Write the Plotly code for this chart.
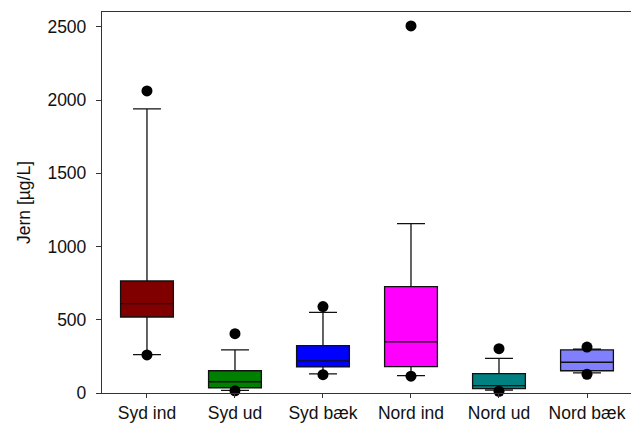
import plotly.graph_objects as go

categories = ["Syd ind", "Syd ud", "Syd bæk", "Nord ind", "Nord ud", "Nord bæk"]
q1 = [519, 36, 178, 180, 30, 152]
median = [610, 77, 219, 350, 50, 210]
q3 = [765, 152, 323, 726, 132, 294]
lower_whisker = [262, 18, 130, 118, 20, 137]
upper_whisker = [1940, 294, 551, 1157, 237, 300]
outlier_x = ["Syd ind", "Syd ind", "Syd ud", "Syd ud", "Syd bæk", "Syd bæk",
             "Nord ind", "Nord ind", "Nord ud", "Nord ud", "Nord bæk", "Nord bæk"]
outlier_y = [2063, 260, 405, 15, 590, 125, 2507, 115, 303, 12, 314, 128]
colors = ["#800000", "#008000", "#0000ff", "#ff00ff", "#008080", "#8080ff"]

fig = go.Figure()
for i, c in enumerate(categories):
    fig.add_trace(go.Box(
        x=[c], q1=[q1[i]], median=[median[i]], q3=[q3[i]],
        lowerfence=[lower_whisker[i]], upperfence=[upper_whisker[i]],
        fillcolor=colors[i], line=dict(color="#111111", width=1.3),
        width=0.6, whiskerwidth=0.53, boxpoints=False, showlegend=False,
        hoverinfo="skip"))

fig.add_trace(go.Scatter(x=outlier_x, y=outlier_y, mode="markers",
                         marker=dict(color="black", size=11), cliponaxis=False,
                         showlegend=False, hoverinfo="skip"))

font = dict(family="Liberation Sans, Arial, sans-serif", size=17.5, color="#111111")
fig.update_layout(
    width=631, height=426,
    margin=dict(l=102, r=0, t=12, b=33),
    plot_bgcolor="white", paper_bgcolor="white",
    font=font, boxmode="overlay",
    xaxis=dict(categoryorder="array", categoryarray=categories,
               range=[-0.511, 5.5], showline=True, linecolor="#333333",
               linewidth=1.3, mirror=True, ticks="outside", ticklen=4,
               tickcolor="#333333", showgrid=False, zeroline=False,
               tickfont=font),
    yaxis=dict(range=[0, 2602], tickvals=[0, 500, 1000, 1500, 2000, 2500],
               showline=True, linecolor="#333333", linewidth=1.3,
               ticks="outside", ticklen=5, tickcolor="#333333",
               ticklabelstandoff=6,
               showgrid=False, zeroline=False, tickfont=font,
               title=dict(text="Jern [µg/L]", font=font, standoff=12)),
)

fig.write_html(
    "out.html",
    config={"displayModeBar": False},
    post_script="document.body.style.margin='0';"
                "document.documentElement.style.overflow='hidden';",
)
